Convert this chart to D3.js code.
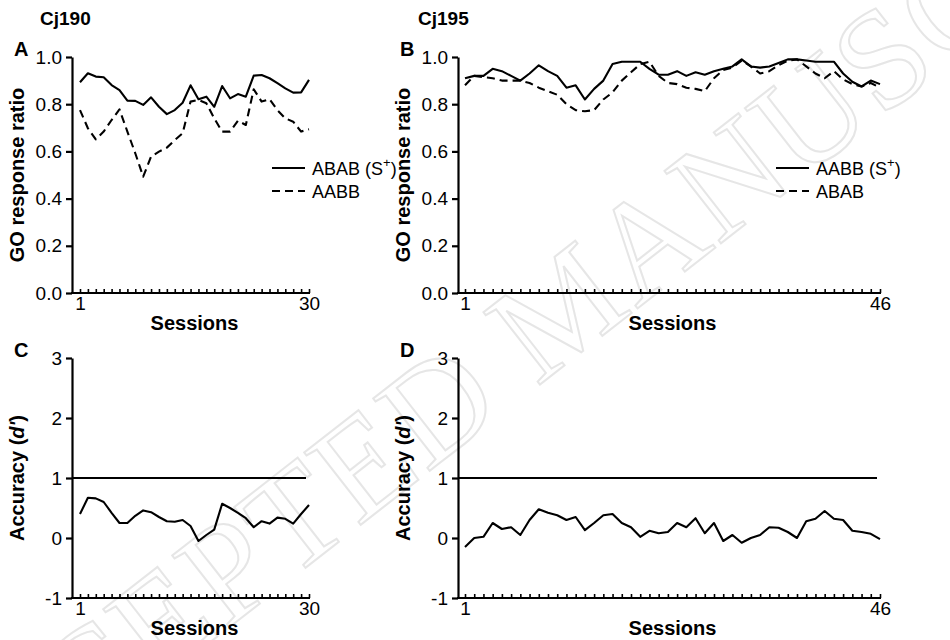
<!DOCTYPE html>
<html><head><meta charset="utf-8">
<script src="https://cdn.jsdelivr.net/npm/d3@7"></script>
<style>body{margin:0;background:#fff}svg{font-family:"Liberation Sans",Arial,sans-serif}</style>
</head><body><svg id="c" width="950" height="640"></svg>
<script>
// ---- data ----
const cj190_ABAB = [0.893,0.931,0.917,0.914,0.881,0.860,0.815,0.814,0.797,0.829,0.789,0.758,0.775,0.806,0.880,0.821,0.832,0.789,0.877,0.825,0.843,0.832,0.921,0.924,0.910,0.889,0.867,0.849,0.850,0.903];
const cj190_AABB = [0.775,0.698,0.651,0.684,0.733,0.778,0.684,0.592,0.493,0.578,0.599,0.616,0.648,0.677,0.811,0.818,0.804,0.740,0.684,0.684,0.730,0.712,0.863,0.811,0.821,0.775,0.740,0.726,0.684,0.694];
const cj195_AABB = [0.91,0.92,0.92,0.95,0.94,0.92,0.90,0.93,0.965,0.94,0.92,0.87,0.88,0.82,0.865,0.90,0.97,0.98,0.98,0.98,0.95,0.925,0.925,0.94,0.92,0.935,0.925,0.94,0.95,0.96,0.99,0.96,0.955,0.96,0.975,0.99,0.99,0.985,0.98,0.98,0.98,0.93,0.895,0.875,0.90,0.885];
const cj195_ABAB = [0.88,0.92,0.915,0.91,0.90,0.90,0.90,0.89,0.87,0.855,0.84,0.80,0.775,0.77,0.775,0.82,0.85,0.90,0.935,0.97,0.98,0.92,0.89,0.885,0.87,0.865,0.855,0.91,0.945,0.955,0.985,0.96,0.93,0.94,0.965,0.985,0.99,0.96,0.93,0.91,0.94,0.905,0.885,0.875,0.89,0.87];
const cj190_dprime = [0.40,0.67,0.66,0.60,0.42,0.25,0.25,0.37,0.46,0.43,0.35,0.28,0.27,0.30,0.20,-0.05,0.05,0.14,0.57,0.50,0.42,0.33,0.18,0.28,0.24,0.34,0.32,0.24,0.40,0.55];
const cj195_dprime = [-0.15,0.00,0.02,0.25,0.15,0.18,0.05,0.30,0.48,0.42,0.38,0.30,0.35,0.13,0.25,0.38,0.40,0.25,0.18,0.02,0.12,0.08,0.10,0.25,0.18,0.33,0.08,0.25,-0.05,0.05,-0.08,0.00,0.05,0.18,0.17,0.10,0.00,0.28,0.32,0.45,0.32,0.30,0.12,0.10,0.07,-0.02];
const criterion = 1;
const ratioTicks = [0, 0.2, 0.4, 0.6, 0.8, 1.0];
const dTicks = [-1, 0, 1, 2, 3];
const titles = ["Cj190", "Cj195"];
const panelLetters = ["A", "B", "C", "D"];
const legendA = ["ABAB (S", "AABB"];
const legendB = ["AABB (S", "ABAB"];
const watermark = "ACCEPTED MANUSCRIPT";

// ---- drawing ----
const svg = d3.select("#c");

// faint diagonal watermark
svg.append("text")
  .attr("transform", "translate(-75,865) rotate(-38)")
  .attr("font-family", "Liberation Serif, serif")
  .attr("font-size", 140)
  .attr("letter-spacing", 2)
  .attr("fill", "none").attr("stroke", "#e6e6e6").attr("stroke-width", 2)
  .text(watermark);

function panel(opt) {
  const g = svg.append("g");
  const x = d3.scaleLinear().domain([1, opt.n]).range(opt.xr);
  const y = d3.scaleLinear().domain(opt.yd).range(opt.yr);
  const ax = opt.axisX;
  // y axis
  const ya = d3.axisLeft(y).tickValues(opt.yticks).tickSize(6).tickSizeOuter(0).tickPadding(4)
    .tickFormat(opt.yfmt);
  const yg = g.append("g").attr("transform", `translate(${ax},0)`).call(ya);
  yg.select(".domain").attr("stroke-width", 2.2);
  yg.selectAll(".tick line").attr("stroke-width", 2.2);
  yg.selectAll("text").attr("font-size", 19).attr("fill", "#000").attr("font-family", "Liberation Sans, Arial, sans-serif");
  // x axis
  const xa = d3.axisBottom(x).tickValues(d3.range(1, opt.n + 1)).tickSize(-4).tickSizeOuter(0).tickPadding(3)
    .tickFormat(d => (d === 1 || d === opt.n) ? d : "");
  const xg = g.append("g").attr("transform", `translate(0,${opt.yr[0]})`).call(xa);
  xg.select(".domain").remove();
  xg.selectAll(".tick line").attr("stroke-width", 1.6);
  xg.selectAll("text").attr("font-size", 19).attr("fill", "#000").attr("font-family", "Liberation Sans, Arial, sans-serif");
  g.append("line").attr("x1", ax - 1).attr("x2", x(opt.n) + 1)
    .attr("y1", opt.yr[0]).attr("y2", opt.yr[0]).attr("stroke", "#000").attr("stroke-width", 2.2);
  // x label
  g.append("text").attr("x", (x(1) + x(opt.n)) / 2).attr("y", opt.yr[0] + 37)
    .attr("text-anchor", "middle").attr("font-weight", "bold").attr("font-size", 20).text("Sessions");
  // y label
  const yl = g.append("text").attr("transform", `translate(${ax - 48},${(opt.yr[0] + opt.yr[1]) / 2}) rotate(-90)`)
    .attr("text-anchor", "middle").attr("font-weight", "bold").attr("font-size", 20);
  if (opt.dlabel) {
    yl.append("tspan").text("Accuracy (");
    yl.append("tspan").attr("font-style", "italic").text("d'");
    yl.append("tspan").text(")");
  } else yl.text("GO response ratio");
  // panel letter
  g.append("text").attr("x", ax - 58).attr("y", opt.yr[1] - 1).attr("font-weight", "bold").attr("font-size", 20).text(opt.letter);
  const line = d3.line().x((d, i) => x(i + 1)).y(d => y(d));
  opt.series.forEach(s => {
    g.append("path").datum(s.v).attr("d", line).attr("fill", "none").attr("stroke", "#000")
      .attr("stroke-width", 2.1).attr("stroke-linejoin", "round")
      .attr("stroke-dasharray", s.dash ? "8,5" : null);
  });
  if (opt.ref !== undefined) {
    g.append("line").attr("x1", ax).attr("x2", x(opt.n) - 3).attr("y1", y(opt.ref)).attr("y2", y(opt.ref))
      .attr("stroke", "#000").attr("stroke-width", 2);
  }
  if (opt.legend) {
    const lx = opt.legend.x, ly = opt.legend.y;
    opt.legend.items.forEach((t, i) => {
      const yy = ly + i * 23;
      g.append("line").attr("x1", lx).attr("x2", lx + 33).attr("y1", yy).attr("y2", yy)
        .attr("stroke", "#000").attr("stroke-width", 2).attr("stroke-dasharray", i ? "8,5" : null);
      const tx = g.append("text").attr("x", lx + 40).attr("y", yy + 7).attr("font-size", 18).text(t);
      if (i === 0) {
        tx.append("tspan").attr("dy", -8).attr("font-size", 13).text("+");
        tx.append("tspan").attr("dy", 8).text(")");
      }
    });
  }
  if (opt.title) {
    g.append("text").attr("x", opt.titleX).attr("y", 25).attr("font-weight", "bold").attr("font-size", 19).text(opt.title);
  }
}

const f1 = d3.format(".1f");
const fint = d => String(d);
panel({ n: 30, xr: [80, 309], yd: [0, 1], yr: [293, 57], axisX: 72, yticks: ratioTicks, yfmt: f1,
  letter: panelLetters[0], title: titles[0], titleX: 40,
  series: [{ v: cj190_ABAB }, { v: cj190_AABB, dash: true }],
  legend: { x: 272, y: 168, items: legendA } });
panel({ n: 46, xr: [465, 880], yd: [0, 1], yr: [293, 57], axisX: 458, yticks: ratioTicks, yfmt: f1,
  letter: panelLetters[1], title: titles[1], titleX: 418,
  series: [{ v: cj195_AABB }, { v: cj195_ABAB, dash: true }],
  legend: { x: 776, y: 168, items: legendB } });
panel({ n: 30, xr: [80, 309], yd: [-1, 3], yr: [598, 358], axisX: 72, yticks: dTicks, yfmt: fint,
  letter: panelLetters[2], dlabel: true, ref: criterion,
  series: [{ v: cj190_dprime }] });
panel({ n: 46, xr: [465, 880], yd: [-1, 3], yr: [598, 358], axisX: 458, yticks: dTicks, yfmt: fint,
  letter: panelLetters[3], dlabel: true, ref: criterion,
  series: [{ v: cj195_dprime }] });
</script></body></html>
